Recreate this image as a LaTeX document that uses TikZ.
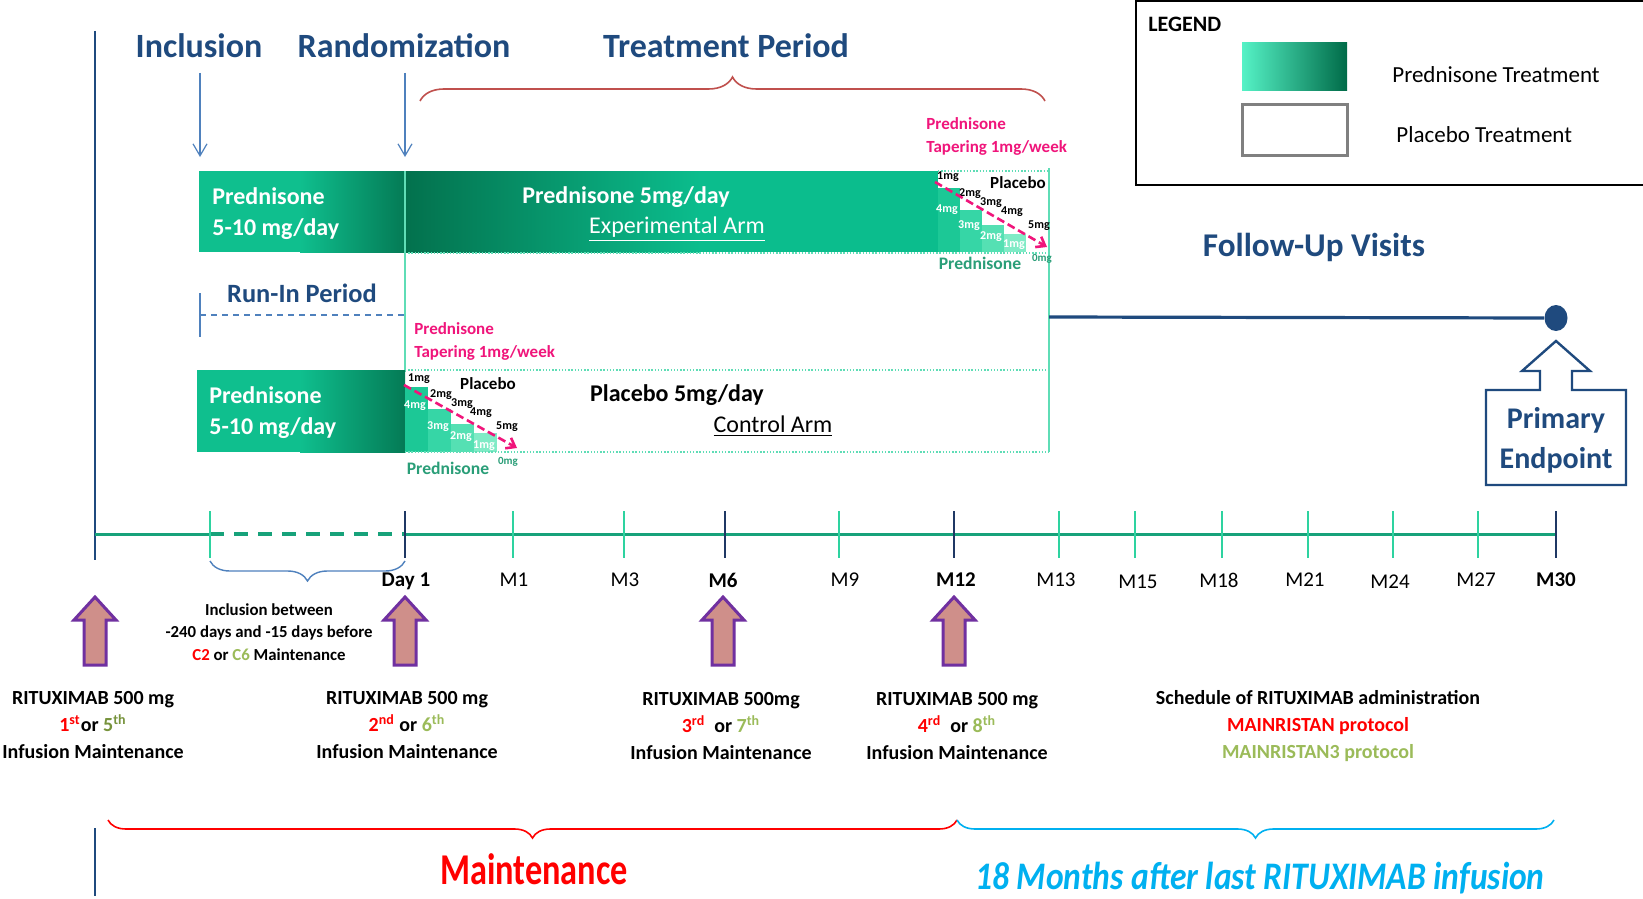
\documentclass[tikz,border=0pt]{standalone}
\usepackage{fontspec}
\setmainfont{Carlito}
\usetikzlibrary{decorations.pathreplacing,arrows.meta,shapes.geometric}
\newcommand\fs[2]{\fontsize{#1pt}{#2pt}\selectfont}
\definecolor{navy}{HTML}{1F4A7E}
\definecolor{tlgreen}{HTML}{17A27A}
\definecolor{minttick}{HTML}{2ED3A0}
\definecolor{tickdark}{HTML}{1F3864}
\definecolor{pinkc}{HTML}{F0157B}
\definecolor{redc}{HTML}{FF0000}
\definecolor{lgreen}{HTML}{9BBB59}
\definecolor{olive}{HTML}{77933C}
\definecolor{arrfill}{HTML}{CF8F8A}
\definecolor{arrpurple}{HTML}{7030A0}
\definecolor{brred}{HTML}{C0504D}
\definecolor{brblue}{HTML}{4F81BD}
\definecolor{cyanb}{HTML}{00B0F0}
\definecolor{boxl}{HTML}{0FBF8E}
\definecolor{boxd}{HTML}{047A55}
\definecolor{bardark}{HTML}{03714D}
\definecolor{barlight}{HTML}{0BBD8D}
\definecolor{stepa}{HTML}{1CC896}
\definecolor{stepb}{HTML}{36D6A6}
\definecolor{stepc}{HTML}{55E0B3}
\definecolor{stepd}{HTML}{80EBC6}
\definecolor{predgreen}{HTML}{2A9E78}
\definecolor{dotmint}{HTML}{5FDDB6}
\definecolor{legl}{HTML}{55F2C6}
\definecolor{legm}{HTML}{0E9E70}
\definecolor{legd}{HTML}{006B48}
\tikzset{
  txt/.style={inner sep=0pt, align=center},
  title/.style={txt, text=navy, font=\fs{17}{20}\bfseries},
  thinarrow/.style={brblue, line width=0.6pt, -{Straight Barb[length=6pt,width=7pt]}},
  dotln/.style={dotmint, line width=1.3pt, dash pattern=on 0.7pt off 0.9pt},
  mintln/.style={dotmint, line width=0.8pt},
  pinkarrow/.style={pinkc, line width=1.3pt, dash pattern=on 4pt off 2pt, -{Straight Barb[length=4pt,width=6pt]}},
  smallw/.style={txt, text=white, font=\fs{6}{7}\bfseries},
  smallb/.style={txt, text=black, font=\fs{6}{7}\bfseries},
  tplabel/.style={txt, font=\fs{10.5}{12}},
  tick/.style={minttick, line width=1.2pt},
  dtick/.style={tickdark, line width=1.2pt},
  ritux/.style={txt, font=\fs{10}{13.3}\bfseries},
  infarrow/.pic={\draw[fill=arrfill, draw=arrpurple, line width=1.5pt]
     (-11,68) -- (-11,23) -- (-21,23) -- (0,0) -- (21,23) -- (11,23) -- (11,68) -- cycle;}
}
\begin{document}
\begin{tikzpicture}[x=0.5pt,y=-0.5pt]
\useasboundingbox (0,0) rectangle (1643,899);
\fill[white] (0,0) rectangle (1643,899);

% left vertical lines
\coordinate (lvA) at (95,31); \coordinate (lvB) at (95,560);
\draw[navy, line width=1.3pt] (lvA) -- (lvB);
\coordinate (lvC) at (95,828); \coordinate (lvD) at (95,896);
\draw[navy, line width=1.3pt] (lvC) -- (lvD);

% titles
\node[title] (incl) at (199,46) {Inclusion};
\node[title] (rand) at (404,46) {Randomization};
\node[title] (treat) at (726,46) {Treatment Period};
\coordinate (inA) at (200,73); \coordinate (inB) at (200,157);
\draw[thinarrow] (inA) -- (inB);
\coordinate (raA) at (405,73); \coordinate (raB) at (405,157);
\draw[thinarrow] (raA) -- (raB);
\coordinate (trL) at (420,101); \coordinate (trR) at (1045,101);
\draw[brred, line width=0.8pt, decorate, decoration={brace, amplitude=12pt}] (trL) -- (trR);

% ===== Experimental arm =====
\fill[boxl] (199,171) rectangle (300,252);
\shade[left color=boxl, right color=boxd] (300,171) rectangle (405,252);
\shade[left color=bardark, right color=barlight] (405,171) rectangle (700,252);
\fill[barlight] (700,171) rectangle (938,252);
\fill[stepa] (938,188) rectangle (960,252);
\fill[stepb] (960,210) rectangle (982,252);
\fill[stepc] (982,225) rectangle (1004,252);
\fill[stepd] (1004,234) rectangle (1026,252);
\coordinate (eTa) at (938,171); \coordinate (eTb) at (1049,171);
\draw[dotln] (eTa) -- (eTb);
\coordinate (eBa) at (405,253); \coordinate (eBb) at (1049,253);
\draw[dotln] (eBa) -- (eBb);
\coordinate (mvA) at (405,171); \coordinate (mvB) at (405,372);
\draw[mintln] (mvA) -- (mvB);
\coordinate (rvA) at (1049,168); \coordinate (rvB) at (1049,452);
\draw[mintln] (rvA) -- (rvB);

\node[txt, anchor=west, align=left, text=white, font=\fs{12}{15.5}\bfseries] (eL) at (212,214) {Prednisone\\5-10 mg/day};
\node[txt, text=white, font=\fs{12}{14}\bfseries] (eT1) at (626,197) {Prednisone 5mg/day};
\node[txt, text=white, font=\fs{12}{14}] (eT2) at (677,229) {\underline{Experimental Arm}};

\node[txt, anchor=west, align=left, text=pinkc, font=\fs{8.5}{11.5}\bfseries] (eTap) at (926,136.5) {Prednisone\\Tapering 1mg/week};
\node[smallb] (e1) at (948,177) {1mg};
\node[smallb] (e2) at (970,194) {2mg};
\node[smallb] (e3) at (991,203) {3mg};
\node[smallb] (e4) at (1012,212) {4mg};
\node[smallb] (e5) at (1039,226) {5mg};
\node[txt, font=\fs{8.5}{10}\bfseries] (ePl) at (1018,183) {Placebo};
\node[smallw] (ew4) at (947,210) {4mg};
\node[smallw] (ew3) at (969,226) {3mg};
\node[smallw] (ew2) at (991,237) {2mg};
\node[smallw] (ew1) at (1014,245) {1mg};
\coordinate (epA) at (935,182); \coordinate (epB) at (1047,247);
\draw[pinkarrow] (epA) -- (epB);
\node[txt, text=predgreen, font=\fs{8.8}{10}\bfseries] (ePr) at (980,263) {Prednisone};
\node[txt, text=predgreen, font=\fs{5.5}{6}\bfseries] (e0) at (1042,259) {0mg};

% ===== Run-in =====
\node[txt, text=navy, font=\fs{13.2}{15}\bfseries] (runin) at (302,293) {Run-In Period};
\coordinate (riA) at (200,293); \coordinate (riB) at (200,337);
\draw[brblue, line width=0.6pt] (riA) -- (riB);
\coordinate (riC) at (200,315); \coordinate (riD) at (405,315);
\draw[brblue, line width=0.7pt, dash pattern=on 3pt off 2.5pt] (riC) -- (riD);

% ===== Control arm =====
\fill[boxl] (197,370) rectangle (300,452);
\shade[left color=boxl, right color=boxd] (300,370) rectangle (405,452);
\fill[stepa] (405,387) rectangle (428,452);
\fill[stepb] (428,409) rectangle (451,452);
\fill[stepc] (451,424) rectangle (474,452);
\fill[stepd] (474,433) rectangle (497,452);
\coordinate (cTa) at (405,370); \coordinate (cTb) at (1049,370);
\draw[dotln] (cTa) -- (cTb);
\coordinate (cBa) at (405,452); \coordinate (cBb) at (1049,452);
\draw[dotln] (cBa) -- (cBb);

\node[txt, anchor=west, align=left, text=white, font=\fs{12}{15.5}\bfseries] (cL) at (209,413) {Prednisone\\5-10 mg/day};
\node[txt, font=\fs{12}{14}\bfseries] (cT1) at (677,395) {Placebo 5mg/day};
\node[txt, font=\fs{12}{14}] (cT2) at (773,426) {\underline{Control Arm}};

\node[txt, anchor=west, align=left, text=pinkc, font=\fs{8.5}{11.5}\bfseries] (cTap) at (414,341.5) {Prednisone\\Tapering 1mg/week};
\node[smallb] (c1) at (419,379) {1mg};
\node[smallb] (c2) at (441,395) {2mg};
\node[smallb] (c3) at (462,404) {3mg};
\node[smallb] (c4) at (481,413) {4mg};
\node[smallb] (c5) at (507,427) {5mg};
\node[txt, font=\fs{8.5}{10}\bfseries] (cPl) at (488,384) {Placebo};
\node[smallw] (cw4) at (415,406) {4mg};
\node[smallw] (cw3) at (438,427) {3mg};
\node[smallw] (cw2) at (461,437) {2mg};
\node[smallw] (cw1) at (484,446) {1mg};
\coordinate (cpA) at (404,385); \coordinate (cpB) at (517,448);
\draw[pinkarrow] (cpA) -- (cpB);
\node[txt, text=predgreen, font=\fs{8.8}{10}\bfseries] (cPr) at (448,468) {Prednisone};
\node[txt, text=predgreen, font=\fs{5.5}{6}\bfseries] (c0) at (508,462) {0mg};

% ===== Follow-up =====
\node[txt, text=navy, font=\fs{16.6}{19}\bfseries] (fu) at (1314,247) {Follow-Up Visits};
\node[ellipse, fill=navy, inner sep=0pt, minimum width=11.5pt, minimum height=13pt] (endpt) at (1556,318) {};
\coordinate (fuS) at (1049,317);
\draw[navy, line width=1.6pt] (fuS) -- (endpt.west);
\coordinate (pe1) at (1486,485); \coordinate (pe2) at (1486,390);
\coordinate (pe3) at (1540,390); \coordinate (pe4) at (1540,371);
\coordinate (pe5) at (1522,371); \coordinate (pe6) at (1556,341);
\coordinate (pe7) at (1590,371); \coordinate (pe8) at (1572,371);
\coordinate (pe9) at (1572,390); \coordinate (pe10) at (1626,390);
\coordinate (pe11) at (1626,485);
\draw[navy, line width=1.2pt, line join=miter] (pe1) -- (pe2) -- (pe3) -- (pe4) -- (pe5) -- (pe6) -- (pe7) -- (pe8) -- (pe9) -- (pe10) -- (pe11) -- cycle;
\node[txt, text=navy, font=\fs{15}{20}\bfseries] (pri) at (1556,440) {Primary\\Endpoint};

% ===== Timeline =====
\coordinate (tl0) at (95,534); \coordinate (tl1) at (210,534);
\coordinate (tl2) at (405,534); \coordinate (tl3) at (1556,534);
\draw[tlgreen, line width=1.5pt] (tl0) -- (tl1);
\draw[tlgreen, line width=2pt, dash pattern=on 7pt off 5pt] (tl1) -- (tl2);
\draw[tlgreen, line width=1.5pt] (tl2) -- (tl3);
\foreach \x/\n in {210/a,513/b,624/c,839/d,1059/e,1135/f,1222/g,1308/h,1393/i,1478/j}{
  \coordinate (tk\n u) at (\x,511); \coordinate (tk\n d) at (\x,558);
  \draw[tick] (tk\n u) -- (tk\n d);}
\foreach \x/\n in {405/p,725/q,954/r,1556/s}{
  \coordinate (tk\n u) at (\x,511); \coordinate (tk\n d) at (\x,558);
  \draw[dtick] (tk\n u) -- (tk\n d);}
\node[tplabel, font=\fs{10.5}{12}\bfseries] (lDay) at (406,581) {Day 1};
\node[tplabel] (lM1) at (514,580) {M1};
\node[tplabel] (lM3) at (625,580) {M3};
\node[tplabel, font=\fs{10.5}{12}\bfseries] (lM6) at (723,580) {M6};
\node[tplabel] (lM9) at (845,580) {M9};
\node[tplabel, font=\fs{10.5}{12}\bfseries] (lM12) at (956,580) {M12};
\node[tplabel] (lM13) at (1056,580) {M13};
\node[tplabel] (lM15) at (1138,582) {M15};
\node[tplabel] (lM18) at (1219,580) {M18};
\node[tplabel] (lM21) at (1305,580) {M21};
\node[tplabel] (lM24) at (1390,582) {M24};
\node[tplabel] (lM27) at (1476,580) {M27};
\node[tplabel, font=\fs{10.5}{12}\bfseries] (lM30) at (1556,580) {M30};

% inclusion brace
\coordinate (ibR) at (405,561); \coordinate (ibL) at (210,561);
\draw[brblue, line width=0.7pt, decorate, decoration={brace, amplitude=10pt}] (ibR) -- (ibL);
\node[txt, font=\fs{8.4}{11.25}\bfseries] (inclTxt) at (269,632) {Inclusion between\\-240 days and -15 days before\\{\color{redc}C2} or {\color{lgreen}C6} Maintenance};

% infusion arrows
\pic (ar1) at (95,597) {infarrow};
\pic (ar2) at (405,597) {infarrow};
\pic (ar3) at (723,597) {infarrow};
\pic (ar4) at (954,597) {infarrow};

\node[ritux] (r1) at (93,725) {RITUXIMAB 500 mg\\{\color{redc}1\textsuperscript{st}}or {\color{olive}5\textsuperscript{th}}\\Infusion Maintenance};
\node[ritux] (r2) at (407,725) {RITUXIMAB 500 mg\\{\color{redc}2\textsuperscript{nd}} or {\color{lgreen}6\textsuperscript{th}}\\Infusion Maintenance};
\node[ritux] (r3) at (721,726) {RITUXIMAB 500mg\\{\color{redc}3\textsuperscript{rd}}\ \ or {\color{lgreen}7\textsuperscript{th}}\\Infusion Maintenance};
\node[ritux] (r4) at (957,726) {RITUXIMAB 500 mg\\{\color{redc}4\textsuperscript{rd}}\ \ or {\color{lgreen}8\textsuperscript{th}}\\Infusion Maintenance};
\node[ritux] (sched) at (1318,726) {Schedule of RITUXIMAB administration\\{\color{redc}MAINRISTAN protocol}\\{\color{lgreen}MAINRISTAN3 protocol}};

% bottom braces
\coordinate (bb1) at (108,820); \coordinate (bb2) at (957,820); \coordinate (bb3) at (1554,820);
\draw[redc, line width=0.8pt, decorate, decoration={brace, amplitude=9pt}] (bb2) -- (bb1);
\draw[cyanb, line width=0.8pt, decorate, decoration={brace, amplitude=9pt}] (bb3) -- (bb2);
\node[txt, text=redc] (maint) at (534,869) {\scalebox{0.78}[1]{\fs{22}{24}\bfseries Maintenance}};
\node[txt, text=cyanb] (months) at (1260,878) {\scalebox{0.86}[1]{\fs{19.5}{22}\bfseries\itshape 18 Months after last RITUXIMAB infusion}};

% legend
\coordinate (lg1) at (1645,1); \coordinate (lg2) at (1136,1);
\coordinate (lg3) at (1136,185); \coordinate (lg4) at (1645,185);
\draw[black, line width=0.8pt] (lg1) -- (lg2) -- (lg3) -- (lg4);
\node[txt, anchor=west, font=\fs{11}{13}\bfseries] (legT) at (1148,24) {LEGEND};
\shade[left color=legl, middle color=legm, right color=legd] (1242,43) rectangle (1347,91);
\draw[gray, line width=1.5pt] (1242,105) rectangle (1347,155);
\node[txt, anchor=west, font=\fs{11.5}{13}] (legP) at (1392,75) {Prednisone Treatment};
\node[txt, anchor=west, font=\fs{11.5}{13}] (legPl) at (1396,135) {Placebo Treatment};
\end{tikzpicture}
\end{document}
